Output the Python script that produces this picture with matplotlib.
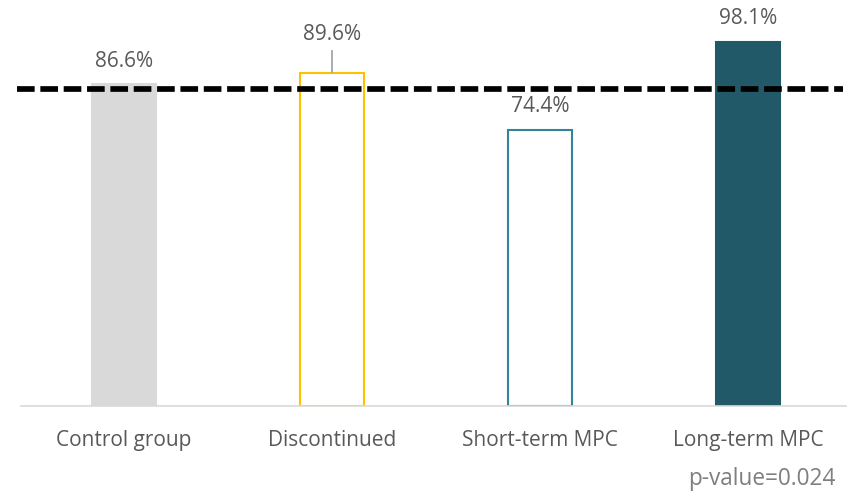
import matplotlib
matplotlib.use("Agg")
import matplotlib.pyplot as plt
from matplotlib.transforms import blended_transform_factory

categories = ["Control group", "Discontinued", "Short-term MPC", "Long-term MPC"]
values = [86.6, 89.6, 74.4, 98.1]
value_labels = ["86.6%", "89.6%", "74.4%", "98.1%"]
dashed_line_level = 85.4
pvalue_text = "p-value=0.024"

face_colors = ["#d9d9d9", "white", "white", "#215968"]
edge_colors = ["#d9d9d9", "#ffc000", "#31849b", "#215968"]
label_offsets = [4.7, 9.0, 4.8, 4.8]  # baseline offset above bar top, data units

plt.rcParams['font.family'] = ['Open Sans', 'DejaVu Sans']

W, H = 853, 492
fig = plt.figure(figsize=(W / 100, H / 100), dpi=100)
ax = fig.add_axes([20 / W, (H - 406) / H, 832 / W, 406 / H])

x = list(range(len(categories)))
ax.bar(x, values, width=0.312, color=face_colors, edgecolor=edge_colors, linewidth=1.5, zorder=2)

ax.set_xlim(-0.5, 3.5)
ax.set_ylim(0, 109.3)

for xi, v, lab, off in zip(x, values, value_labels, label_offsets):
    ax.text(xi, v + off, lab, ha="center", va="baseline", fontsize=15, color="#595959", zorder=4)

# leader line for Discontinued label
ax.plot([1, 1], [values[1] + 0.2, values[1] + 6.1], color="#a6a6a6", linewidth=1.3, zorder=3)

ax.hlines(dashed_line_level, -0.515, 3.455, colors="black", linestyles=(0, (3.1, 1.0)),
          linewidth=4.1, zorder=5, clip_on=False)

for s in ["top", "right", "left"]:
    ax.spines[s].set_visible(False)
ax.spines["bottom"].set_color("#d9d9d9")
ax.spines["bottom"].set_linewidth(1.2)
ax.spines["bottom"].set_bounds(-0.495, 3.47)
ax.set_yticks([])
ax.set_xticks(x)
ax.set_xticklabels([])
ax.tick_params(axis="x", length=0)

trans = blended_transform_factory(ax.transData, ax.transAxes)
for xi, cat in zip(x, categories):
    ax.text(xi, (406 - 446) / 406, cat, transform=trans, ha="center", va="baseline",
            fontsize=15, color="#595959", clip_on=False)

fig.text(836 / W, 1 - 485 / H, pvalue_text, ha="right", va="baseline", fontsize=16.3, color="#7f7f7f")

fig.savefig("out.png", dpi=100)
